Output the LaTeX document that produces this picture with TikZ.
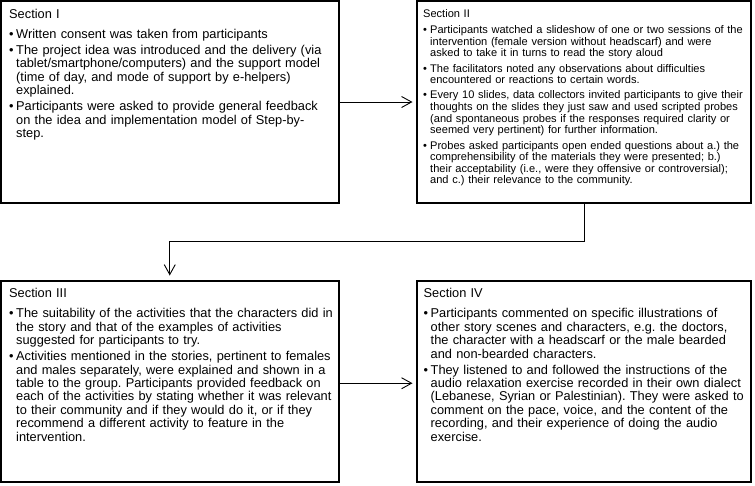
\documentclass[tikz,border=0pt]{standalone}
\usepackage{fontspec}
\setmainfont{Liberation Sans}
\usetikzlibrary{arrows.meta}
\frenchspacing
\newlength\bulgap
\newcommand\bul{\par\vspace{\bulgap}\hangindent=7pt\hangafter=1\noindent\makebox[7pt][l]{•}}
\newcommand\nl{\newline}
\newcommand\txtsetup[1]{\frenchspacing\raggedright\hyphenpenalty=10000\relax\setlength\bulgap{#1}\noindent}
\tikzset{
  x=1pt, y=-1pt,
  secbox/.style={draw=black, line width=2pt, rectangle, inner sep=0pt, outer sep=0pt, anchor=north west},
  txtbig/.style={anchor=base west, inner sep=0pt, text width=#1, font=\fontsize{12.8}{13.4}\selectfont},
  txtsmall/.style={anchor=base west, inner sep=0pt, text width=#1, font=\fontsize{11.05}{11.6}\selectfont},
  conn/.style={draw=black, line width=0.9pt, -{Straight Barb[length=10pt,width=11pt]}},
}
\begin{document}
\begin{tikzpicture}
\useasboundingbox (0,0) rectangle (755,485);
\node[secbox, minimum width=338pt, minimum height=202pt] (s1) at (1,1) {};
\node[secbox, minimum width=334pt, minimum height=202pt] (s2) at (417,1) {};
\node[secbox, minimum width=337.5pt, minimum height=200.5pt] (s3) at (1,281) {};
\node[secbox, minimum width=334pt, minimum height=200.5pt] (s4) at (417,281) {};

\node[txtbig=360pt] (t1) at (9,18.5) {\txtsetup{2.6pt}Section I\par\vspace{4pt}%
\bul Written consent was taken from participants
\bul The project idea was introduced and the delivery (via\nl
tablet/smartphone/computers) and the support model\nl
(time of day, and mode of support by e-helpers)\nl
explained.
\bul Participants were asked to provide general feedback\nl
on the idea and implementation model of Step-by-\nl
step.\par};

\node[txtsmall=360pt] (t2) at (423,17) {\txtsetup{3.7pt}Section II\par\vspace{1.2pt}%
\bul Participants watched a slideshow of one or two sessions of the\nl
intervention (female version without headscarf) and were\nl
asked to take it in turns to read the story aloud
\bul The facilitators noted any observations about difficulties\nl
encountered or reactions to certain words.
\bul Every 10 slides, data collectors invited participants to give their\nl
thoughts on the slides they just saw and used scripted probes\nl
(and spontaneous probes if the responses required clarity or\nl
seemed very pertinent) for further information.
\bul Probes asked participants open ended questions about a.) the\nl
comprehensibility of the materials they were presented; b.)\nl
their acceptability (i.e., were they offensive or controversial);\nl
and c.) their relevance to the community.\par};

\node[txtbig=360pt] (t3) at (9,297.3) {\txtsetup{2.6pt}Section III\par\vspace{4.5pt}%
\bul The suitability of the activities that the characters did in\nl
the story and that of the examples of activities\nl
suggested for participants to try.
\bul Activities mentioned in the stories, pertinent to females\nl
and males separately, were explained and shown in a\nl
table to the group. Participants provided feedback on\nl
each of the activities by stating whether it was relevant\nl
to their community and if they would do it, or if they\nl
recommend a different activity to feature in the\nl
intervention.\par};

\node[txtbig=360pt] (t4) at (423.5,297.3) {\txtsetup{2.6pt}Section IV\par\vspace{4.5pt}%
\bul Participants commented on specific illustrations of\nl
other story scenes and characters, e.g. the doctors,\nl
the character with a headscarf or the male bearded\nl
and non-bearded characters.
\bul They listened to and followed the instructions of the\nl
audio relaxation exercise recorded in their own dialect\nl
(Lebanese, Syrian or Palestinian). They were asked to\nl
comment on the pace, voice, and the content of the\nl
recording, and their experience of doing the audio\nl
exercise.\par};

\draw[conn, shorten >=4.5pt] (s1.east) -- (s2.west);
\draw[conn, shorten >=5.5pt] (s2.south) -- ++(0,38.5) -| (s3.north);
\draw[conn, shorten >=4.5pt] ([yshift=-2pt]s3.east) -- ([yshift=-2pt]s4.west);
\end{tikzpicture}
\end{document}
